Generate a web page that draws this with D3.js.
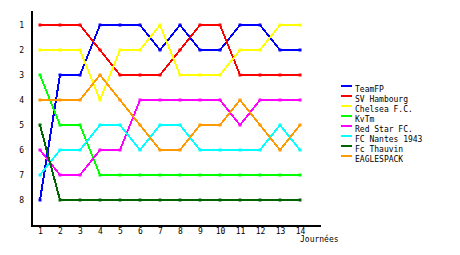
<!DOCTYPE html>
<html>
<head>
<meta charset="utf-8">
<script src="https://cdn.jsdelivr.net/npm/d3@7"></script>
<style>
body{margin:0;background:#fff;}
svg text{font-family:"DejaVu Sans Mono",monospace;font-size:8px;fill:#000;}
.serie{fill:none;stroke-width:2;shape-rendering:crispEdges;}
.axe path{stroke:#000;stroke-width:2;shape-rendering:crispEdges;}
</style>
</head>
<body>
<svg></svg>
<script>
// classement par journee
var journees=[1,2,3,4,5,6,7,8,9,10,11,12,13,14];
var rangs=[1,2,3,4,5,6,7,8];
var equipes=["TeamFP","SV Hambourg","Chelsea F.C.","KvTm","Red Star FC.","FC Nantes 1943","Fc Thauvin","EAGLESPACK"];
var couleurs=["#0000ff","#ff0000","#ffff00","#00ff00","#ff00ff","#00ffff","#006400","#ff9900"];

var teamFP=[8,3,3,1,1,1,2,1,2,2,1,1,2,2];
var svHambourg=[1,1,1,2,3,3,3,2,1,1,3,3,3,3];
var chelsea=[2,2,2,4,2,2,1,3,3,3,2,2,1,1];
var kvtm=[3,5,5,7,7,7,7,7,7,7,7,7,7,7];
var redStar=[6,7,7,6,6,4,4,4,4,4,5,4,4,4];
var nantes=[7,6,6,5,5,6,5,5,6,6,6,6,5,6];
var thauvin=[5,8,8,8,8,8,8,8,8,8,8,8,8,8];
var eagles=[4,4,4,3,4,5,6,6,5,5,4,5,6,5];

var series=[teamFP,svHambourg,chelsea,kvtm,redStar,nantes,thauvin,eagles];

var width=460,height=255;
var svg=d3.select("svg").attr("width",width).attr("height",height);

var x=d3.scaleLinear().domain([0.5,15]).range([30,320]);
var y=d3.scaleLinear().domain([0.4,9]).range([10,225]);

svg.append("g").classed("axe",true)
	.attr("transform","translate(31,0)")
	.call(d3.axisLeft(y).tickValues(rangs).tickSize(0).tickSizeOuter(0).tickPadding(7).tickFormat(d3.format("d")))
	.selectAll("text").attr("dy","0.35em");

svg.append("g").classed("axe",true)
	.attr("transform","translate(0,225)")
	.call(d3.axisBottom(x).tickValues(journees).tickSize(0).tickSizeOuter(0).tickPadding(3).tickFormat(d3.format("d")));

svg.selectAll(".axe text").style("font-family","\"DejaVu Sans Mono\",monospace").style("font-size","8px");

svg.append("text").attr("x",300).attr("y",242).text("Journées");

var line=d3.line()
	.x(function(d,i){return x(journees[i]);})
	.y(function(d){return y(d);});

series.forEach(function(s,k) {
	svg.append("path").datum(s).classed("serie",true)
		.attr("stroke",couleurs[k]).attr("d",line);
	svg.selectAll(".pt"+k).data(s).enter().append("rect")
		.attr("x",function(d,i){return x(journees[i])-1.5;})
		.attr("y",function(d){return y(d)-1.5;})
		.attr("width",3).attr("height",3)
		.attr("fill",couleurs[k]);
});

// legende
var leg=svg.selectAll(".leg").data(equipes).enter().append("g")
	.attr("transform",function(d,i){return "translate(341,"+(86+i*10)+")";});
leg.append("rect").attr("x",0).attr("y",-1).attr("width",11).attr("height",2)
	.attr("fill",function(d,i){return couleurs[i];});
leg.append("text").attr("x",14).attr("y",6).text(function(d){return d;});
</script>
</body>
</html>
